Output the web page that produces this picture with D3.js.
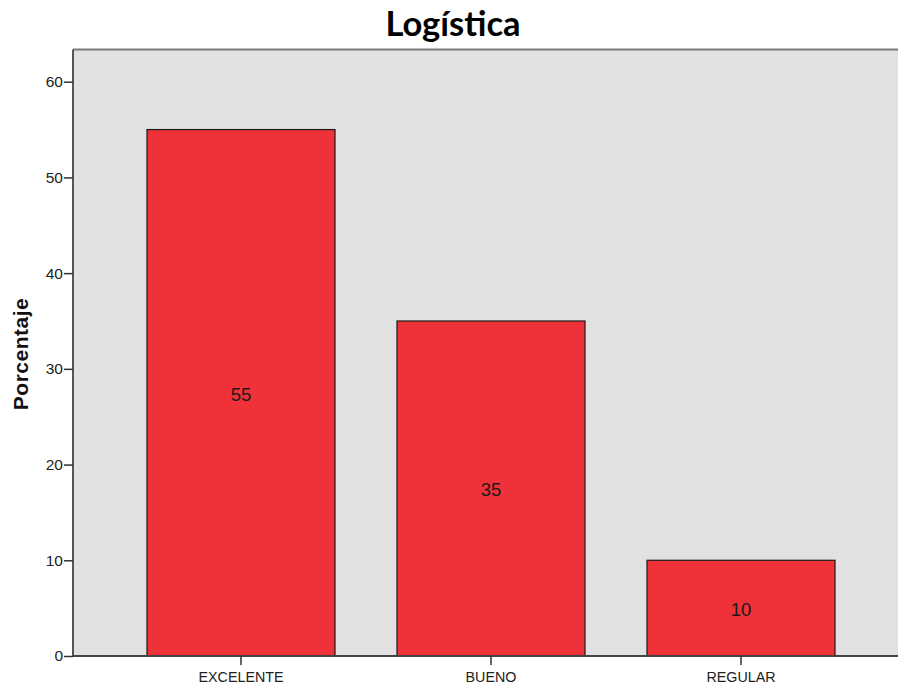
<!DOCTYPE html>
<html>
<head>
<meta charset="utf-8">
<script src="https://cdn.jsdelivr.net/npm/d3@7/dist/d3.min.js"></script>
<style>
  html, body { margin: 0; padding: 0; background: #fff; }
  svg { display: block; }
</style>
</head>
<body>
<svg id="chart" width="898" height="687"></svg>
<script>
// Data
const categories = ["EXCELENTE", "BUENO", "REGULAR"];
const percentages = [55, 35, 10];
const yTicks = [0, 10, 20, 30, 40, 50, 60];
const chartTitle = "Logística";
const yLabel = "Porcentaje";

const svg = d3.select("#chart");
const plot = { left: 73, top: 49.5, right: 898, bottom: 656 };

const y = d3.scaleLinear().domain([0, 60]).range([656, 81.7]);
const x = d3.scaleBand()
  .domain(categories)
  .range([116, 866])
  .paddingInner(0.248)
  .paddingOuter(0.124);

// Plot background
svg.append("rect")
  .attr("x", plot.left).attr("y", plot.top)
  .attr("width", plot.right - plot.left).attr("height", plot.bottom - plot.top)
  .attr("fill", "#e1e1e1");

// Top frame line
svg.append("line")
  .attr("x1", plot.left).attr("x2", plot.right)
  .attr("y1", plot.top).attr("y2", plot.top)
  .attr("stroke", "#7a7a7a").attr("stroke-width", 2);

// Bars
svg.append("g").selectAll("rect")
  .data(categories)
  .join("rect")
  .attr("x", d => x(d))
  .attr("y", (d, i) => y(percentages[i]))
  .attr("width", x.bandwidth())
  .attr("height", (d, i) => y(0) - y(percentages[i]))
  .attr("fill", "#ef323a")
  .attr("stroke", "#1a1a1a")
  .attr("stroke-width", 1.2);

// Value labels in the middle of each bar
svg.append("g").selectAll("text")
  .data(categories)
  .join("text")
  .attr("x", d => x(d) + x.bandwidth() / 2)
  .attr("y", (d, i) => (y(percentages[i]) + y(0)) / 2)
  .attr("dy", "0.42em")
  .attr("text-anchor", "middle")
  .attr("font-family", "Liberation Sans, Arial, sans-serif")
  .attr("font-size", 18.5)
  .attr("fill", "#1a1a1a")
  .text((d, i) => percentages[i]);

// Y axis
const yAxis = svg.append("g")
  .attr("transform", `translate(${plot.left},0)`)
  .call(d3.axisLeft(y).tickValues(yTicks).tickSize(9).tickPadding(1));
yAxis.select(".domain").attr("stroke", "#555").attr("stroke-width", 2)
  .attr("d", `M0,${plot.top}V${plot.bottom}`);
yAxis.selectAll(".tick line").attr("stroke", "#333").attr("stroke-width", 1.5);
yAxis.selectAll(".tick text")
  .attr("font-family", "Liberation Sans, Arial, sans-serif")
  .attr("font-size", 15.5).attr("fill", "#222");

// X axis
const xAxis = svg.append("g")
  .attr("transform", `translate(0,${plot.bottom})`)
  .call(d3.axisBottom(x).tickSize(9).tickPadding(7));
xAxis.select(".domain").attr("stroke", "#444").attr("stroke-width", 2)
  .attr("d", `M${plot.left},0H${plot.right}`);
xAxis.selectAll(".tick line").attr("stroke", "#333").attr("stroke-width", 1.5);
xAxis.selectAll(".tick text")
  .attr("font-family", "Liberation Sans, Arial, sans-serif")
  .attr("font-size", 14.3).attr("fill", "#222");

// Title
svg.append("text")
  .attr("x", 453).attr("y", 36)
  .attr("text-anchor", "middle")
  .attr("font-family", "Lato, Carlito, Calibri, sans-serif")
  .attr("font-weight", "bold")
  .attr("font-size", 34.5)
  .attr("fill", "#000")
  .text(chartTitle);

// Y axis title
svg.append("text")
  .attr("transform", `translate(28,354) rotate(-90)`)
  .attr("text-anchor", "middle")
  .attr("font-family", "Liberation Sans, Arial, sans-serif")
  .attr("font-weight", "bold")
  .attr("font-size", 21)
  .attr("letter-spacing", 0.5)
  .attr("fill", "#111")
  .text(yLabel);
</script>
</body>
</html>
